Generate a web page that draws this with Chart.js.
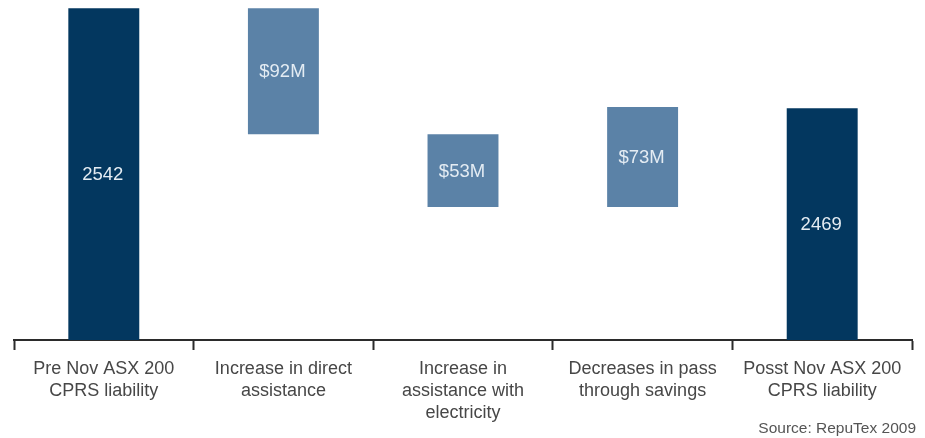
<!DOCTYPE html>
<html>
<head>
<meta charset="utf-8">
<script src="https://cdn.jsdelivr.net/npm/chart.js@4.4.1/dist/chart.umd.min.js"></script>
<style>
  html, body { margin: 0; padding: 0; background: #fff; }
  #wrap { width: 925px; height: 438px; position: relative; }
</style>
</head>
<body>
<div id="wrap"><canvas id="mycanvas"></canvas></div>
<script>
// waterfall data (ASX 200 CPRS liability, $M)
var categories = [
    ['Pre Nov ASX 200', 'CPRS liability'],
    ['Increase in direct', 'assistance'],
    ['Increase in', 'assistance with', 'electricity'],
    ['Decreases in pass', 'through savings'],
    ['Posst Nov ASX 200', 'CPRS liability']
];
var startValue = 2542;
var changes = [-92, -53, 73];
var endValue = 2469;
var axisBase = 2300;
var barLabels = ['2542', '$92M', '$53M', '$73M', '2469'];

var darkBlue = '#03375F';
var lightBlue = '#5B82A7';

// build floating [low, high] pairs from the running total
var ranges = [[axisBase, startValue]];
var colors = [darkBlue];
var running = startValue;
for (var i = 0; i < changes.length; i++) {
    var next = running + changes[i];
    ranges.push([Math.min(running, next), Math.max(running, next)]);
    colors.push(lightBlue);
    running = next;
}
ranges.push([axisBase, endValue]);
colors.push(darkBlue);

// writes the value text in the middle of each bar
var barText = {
    id: 'barText',
    afterDatasetsDraw: function(chart) {
        var ctx = chart.ctx;
        var meta = chart.getDatasetMeta(0);
        ctx.save();
        ctx.font = '18.5px "Liberation Sans", Arial, sans-serif';
        ctx.fillStyle = '#E4ECF3';
        ctx.textAlign = 'center';
        ctx.textBaseline = 'middle';
        meta.data.forEach(function(bar, idx) {
            var p = bar.getProps(['x', 'y', 'base'], true);
            ctx.fillText(barLabels[idx], p.x - 1, (p.y + p.base) / 2 + 1);
        });
        ctx.restore();
    }
};

var sourceNote = {
    id: 'sourceNote',
    afterDraw: function(chart) {
        var ctx = chart.ctx;
        ctx.save();
        ctx.font = '15.5px "Liberation Sans", Arial, sans-serif';
        ctx.fillStyle = '#555555';
        ctx.textAlign = 'right';
        ctx.textBaseline = 'middle';
        ctx.fillText('Source: RepuTex 2009', 916, 429);
        ctx.restore();
    }
};

var chartData = {
    labels: categories,
    datasets: [
        {
            data: ranges,
            backgroundColor: colors,
            borderWidth: 0,
            barPercentage: 0.395,
            categoryPercentage: 1
        }
    ]
};

var myChart = new Chart(document.getElementById('mycanvas'), {
    type: 'bar',
    data: chartData,
    options: {
        responsive: true,
        maintainAspectRatio: false,
        animation: false,
        layout: { padding: { left: 14, right: 13, top: 0, bottom: 0 } },
        plugins: {
            legend: { display: false },
            tooltip: { enabled: false }
        },
        scales: {
            x: {
                afterFit: function(scale) { scale.height = 98; },
                grid: {
                    offset: true,
                    drawOnChartArea: false,
                    drawTicks: true,
                    tickLength: 10,
                    tickWidth: 2,
                    tickColor: '#2b2b2b'
                },
                border: { display: true, color: '#2b2b2b', width: 2 },
                ticks: {
                    color: '#474747',
                    padding: 8,
                    maxRotation: 0,
                    autoSkip: false,
                    font: { family: '"Liberation Sans", Arial, sans-serif', size: 18, lineHeight: 1.22 }
                }
            },
            y: {
                display: false,
                min: axisBase,
                max: 2548
            }
        }
    },
    plugins: [barText, sourceNote]
});
</script>
</body>
</html>
